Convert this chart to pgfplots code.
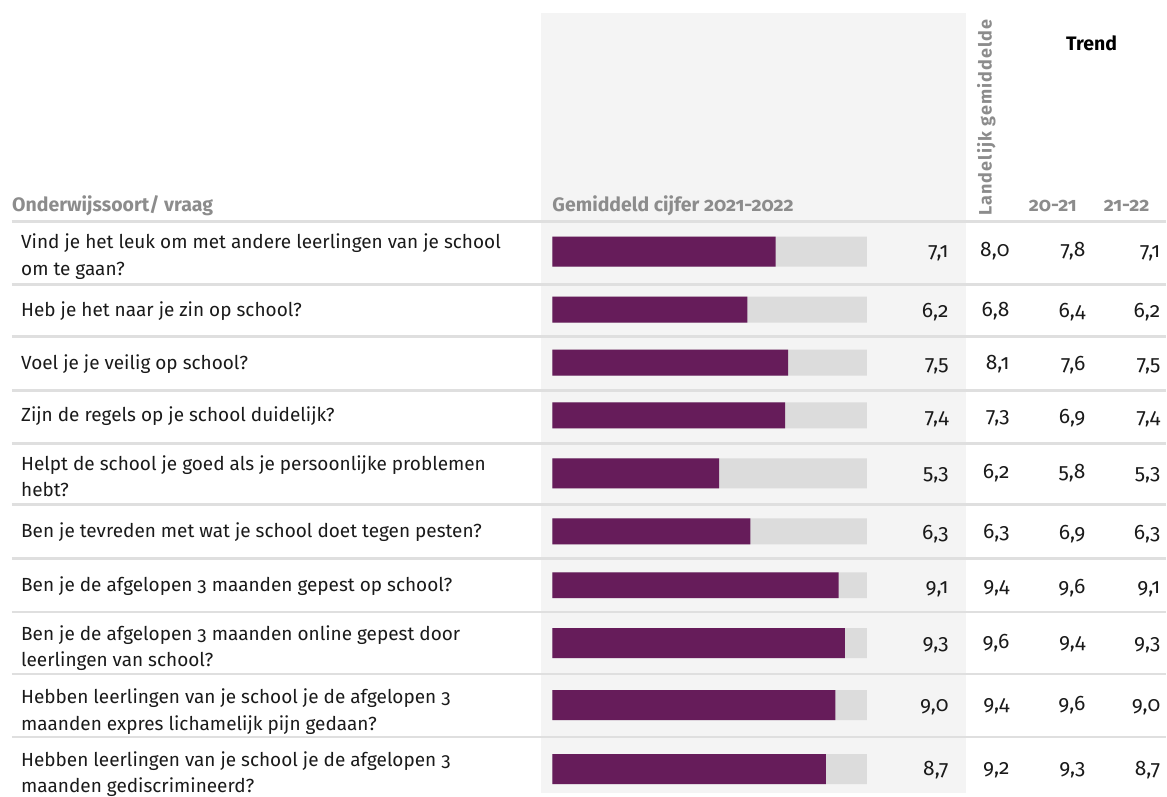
\documentclass[border=0pt]{standalone}
\usepackage{pgfplots}
\pgfplotsset{compat=1.18}
\usepackage{pgfplotstable}
\usepackage{fontspec}
\setmainfont{Fira Sans}[Numbers=OldStyle]
\definecolor{barpurple}{HTML}{661C5A}
\definecolor{track}{HTML}{DCDCDC}
\definecolor{panel}{HTML}{F4F4F4}
\definecolor{sep}{HTML}{DFDFDF}
\definecolor{hdr}{HTML}{8C8C8C}
\definecolor{txt}{HTML}{1A1A1A}
\newcommand\lab{\fontsize{19bp}{26.5bp}\selectfont}
\newcommand\numf{\fontsize{21bp}{24bp}\selectfont}
\newcommand\hdrf{\fontsize{19.5bp}{23bp}\selectfont\bfseries}
\newcommand\labline[2]{\node[anchor=base west, inner sep=0pt, font=\lab, text=txt] at (axis cs:-16.889,#1) {#2};}

% two-line rows (bar width 30px)
\pgfplotstableread{
y   val lan t1  t2
252 7.1 8.0 7.8 7.1
474 5.3 6.2 5.8 5.3
644 9.3 9.6 9.4 9.3
706 9.0 9.4 9.6 9.0
770 8.7 9.2 9.3 8.7
}\twoline
% one-line rows (bar width 26px)
\pgfplotstableread{
y   val lan t1  t2
310 6.2 6.8 6.4 6.2
363 7.5 8.1 7.6 7.5
416 7.4 7.3 6.9 7.4
532 6.3 6.3 6.9 6.3
586 9.1 9.4 9.6 9.1
}\oneline

\begin{document}
\begin{tikzpicture}
\begin{axis}[
  width=1167bp, height=794bp, scale only axis,
  xmin=-17.5556, xmax=19.4921, ymin=0, ymax=794, y dir=reverse,
  axis line style={draw=none}, xtick=\empty, ytick=\empty,
  clip=false,
  /pgf/number format/.cd, fixed, fixed zerofill, precision=1, use comma, assume math mode=true,
  /pgfplots/.cd,
  nodes near coords style={font=\numf, text=txt, anchor=base east, inner sep=0pt},
  num/.style={draw=none, mark=none, nodes near coords, point meta=explicit},
]
% grey panel
\fill[panel] (axis cs:-0.349,13) rectangle (axis cs:13.143,794);
% separators
\draw[sep, line width=3bp] (axis cs:-17.175,222) -- (axis cs:19.492,222);
\pgfplotsinvokeforeach{285,337,391,444,505,559,613,675,738}{
  \draw[sep, line width=2.5bp] (axis cs:-17.175,#1) -- (axis cs:19.492,#1);
}
% tracks
\addplot[xbar, bar width=30, fill=track, draw=none, bar shift=0pt] table[x expr=10, y=y] {\twoline};
\addplot[xbar, bar width=26, fill=track, draw=none, bar shift=0pt] table[x expr=10, y=y] {\oneline};
% bars
\addplot[xbar, bar width=30, fill=barpurple, draw=none, bar shift=0pt] table[x=val, y=y] {\twoline};
\addplot[xbar, bar width=26, fill=barpurple, draw=none, bar shift=0pt] table[x=val, y=y] {\oneline};
% value columns (numbers set on a baseline 6px below the row centre)
\addplot[num] table[x expr=12.603, y expr=\thisrow{y}+6, meta=val] {\twoline};
\addplot[num] table[x expr=14.540, y expr=\thisrow{y}+5, meta=lan] {\twoline};
\addplot[num] table[x expr=16.952, y expr=\thisrow{y}+5, meta=t1] {\twoline};
\addplot[num] table[x expr=19.333, y expr=\thisrow{y}+6, meta=t2] {\twoline};
\addplot[num] table[x expr=12.603, y expr=\thisrow{y}+8, meta=val] {\oneline};
\addplot[num] table[x expr=14.540, y expr=\thisrow{y}+7, meta=lan] {\oneline};
\addplot[num] table[x expr=16.952, y expr=\thisrow{y}+8, meta=t1] {\oneline};
\addplot[num] table[x expr=19.333, y expr=\thisrow{y}+8, meta=t2] {\oneline};
% row labels
\labline{249}{Vind je het leuk om met andere leerlingen van je school}
\labline{275.5}{om te gaan?}
\labline{316.5}{Heb je het naar je zin op school?}
\labline{369.5}{Voel je je veilig op school?}
\labline{422.5}{Zijn de regels op je school duidelijk?}
\labline{471}{Helpt de school je goed als je persoonlijke problemen}
\labline{497.5}{hebt?}
\labline{538.5}{Ben je tevreden met wat je school doet tegen pesten?}
\labline{592.5}{Ben je de afgelopen 3 maanden gepest op school?}
\labline{641}{Ben je de afgelopen 3 maanden online gepest door}
\labline{667.5}{leerlingen van school?}
\labline{704.5}{Hebben leerlingen van je school je de afgelopen 3}
\labline{731}{maanden expres lichamelijk pijn gedaan?}
\labline{767}{Hebben leerlingen van je school je de afgelopen 3}
\labline{793.5}{maanden gediscrimineerd?}
% headers
\node[anchor=base west, inner sep=0pt, font=\hdrf, text=hdr] at (axis cs:-17.175,212) {Onderwijssoort/ vraag};
\node[anchor=base west, inner sep=0pt, font=\hdrf, text=hdr] at (axis cs:0,212) {Gemiddeld cijfer 2021-2022};
\node[anchor=base west, inner sep=0pt, rotate=90, font={\fontsize{18bp}{21bp}\selectfont\bfseries\addfontfeature{LetterSpace=6}}, text=hdr] at (axis cs:13.968,216) {Landelijk gemiddelde};
\node[anchor=center, inner sep=0pt, font=\hdrf, text=black] at (axis cs:17.143,43) {Trend};
\node[anchor=base west, inner sep=0pt, font=\hdrf, text=hdr] at (axis cs:15.14,212) {20-21};
\node[anchor=base west, inner sep=0pt, font=\hdrf, text=hdr] at (axis cs:17.524,212) {21-22};
\end{axis}
\end{tikzpicture}
\end{document}
